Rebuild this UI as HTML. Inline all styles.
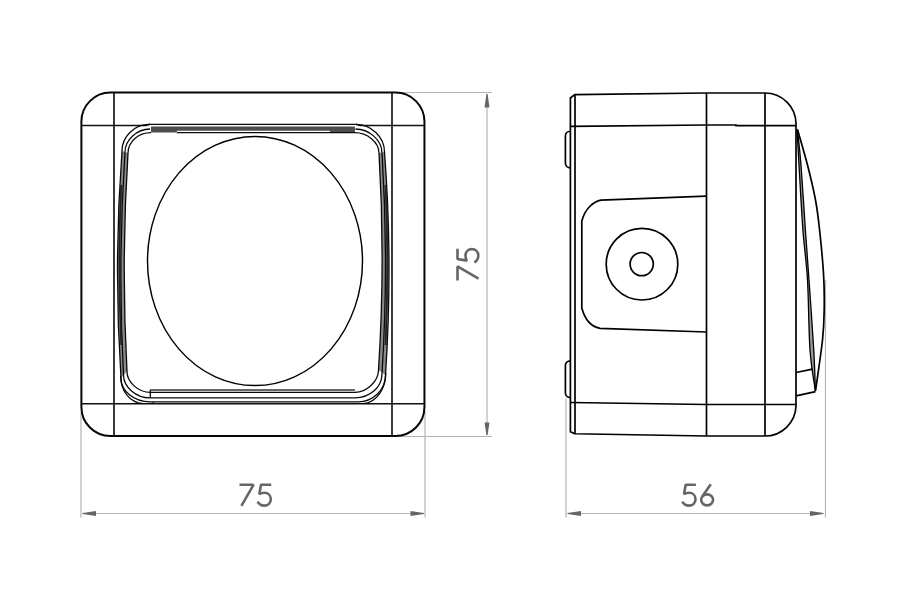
<!DOCTYPE html>
<html><head><meta charset="utf-8"><style>
html,body{margin:0;padding:0;background:#fff;width:900px;height:600px;overflow:hidden}
svg{display:block}
</style></head><body>
<svg width="900" height="600" viewBox="0 0 900 600">
<rect width="900" height="600" fill="#fff"/>
<!-- dimension lines -->
<g stroke="#b4b4b4" stroke-width="1.2" fill="none">
  <line x1="81" y1="413" x2="81" y2="517.5"/>
  <line x1="425" y1="411" x2="425" y2="517.5"/>
  <line x1="82" y1="513.5" x2="424" y2="513.5"/>
  <line x1="395" y1="92.5" x2="492" y2="92.5"/>
  <line x1="395" y1="436.5" x2="492" y2="436.5"/>
  <line x1="487" y1="94" x2="487" y2="435"/>
  <line x1="566" y1="398" x2="566" y2="517.5"/>
  <line x1="825.5" y1="280" x2="825.5" y2="517.5"/>
  <line x1="568" y1="513.5" x2="823" y2="513.5"/>
</g>
<g fill="#666" stroke="none">
  <path d="M82.7 512.9 L96 511 V516 L82.7 514.1 Z"/>
  <path d="M424 512.9 L410.5 511 V516 L424 514.1 Z"/>
  <path d="M567.5 512.9 L581 511 V516 L567.5 514.1 Z"/>
  <path d="M823.5 512.9 L810 511 V516 L823.5 514.1 Z"/>
  <path d="M486.4 94 L484.5 107.5 H489.5 L487.6 94 Z"/>
  <path d="M486.4 435 L484.5 422.4 H489.5 L487.6 435 Z"/>
</g>
<!-- dimension text -->
<g stroke="#666" stroke-width="2.6" fill="none" stroke-linecap="butt" stroke-linejoin="bevel">
  <path d="M239.5 484.8 H253.5 L241.4 505.8"/><path d="M271.20 484.8 H261.00 L259.30 494.2 C260.90 493.2 262.70 492.8 264.30 492.8 C268.10 492.8 270.80 495.6 270.80 499.2 C270.80 502.9 268.00 505.6 264.30 505.6 C261.50 505.6 258.90 504 257.60 501.6"/>
  <path d="M695.90 484.8 H685.70 L684.00 494.2 C685.60 493.2 687.40 492.8 689.00 492.8 C692.80 492.8 695.50 495.6 695.50 499.2 C695.50 502.9 692.70 505.6 689.00 505.6 C686.20 505.6 683.60 504 682.30 501.6"/>
  <path d="M710.8 484.2 L702.4 496.3"/>
  <ellipse cx="707.1" cy="499.85" rx="6" ry="5.5"/>
  <g transform="translate(467.85,264.35) rotate(-90) translate(-255.6,-495.15)"><path d="M239.5 484.8 H253.5 L241.4 505.8"/><path d="M271.20 484.8 H261.00 L259.30 494.2 C260.90 493.2 262.70 492.8 264.30 492.8 C268.10 492.8 270.80 495.6 270.80 499.2 C270.80 502.9 268.00 505.6 264.30 505.6 C261.50 505.6 258.90 504 257.60 501.6"/></g>
</g>

<!-- FRONT VIEW -->
<g fill="none" stroke="#050505" stroke-width="2.0">
  <rect x="81.4" y="92.6" width="343.05" height="343.4" rx="29" ry="29"/>
</g>
<g fill="none" stroke="#111" stroke-width="1.65">
  <line x1="114" y1="92.3" x2="114" y2="436"/>
  <line x1="392" y1="92.3" x2="392" y2="436"/>
  <path d="M81.5 125.4 H146 L150 124.3 M356 124.3 L360 125.4 H424.5" stroke-width="1.5"/>
  <line x1="81.5" y1="403.8" x2="424.5" y2="403.8" stroke-width="1.6"/>
</g>
<ellipse cx="255" cy="261" rx="107.5" ry="124.6" fill="none" stroke="#000" stroke-width="1.45"/>
<!-- BEZEL -->
<path d="M151 126.5 H355 V132.4 H330 V130.8 H177 V132.4 H151 Z" fill="#4d4d4d"/>
<path d="M122 151 Q113.5 264.5 121 378 L127 371.5 Q121 262 128 153 Z" fill="#8a8a8a"/>
<path d="M384.5 152 Q393 262 385.5 375 L378.5 370 Q385.5 262 379 153 Z" fill="#8a8a8a"/>
<g fill="none" stroke="#0a0a0a" stroke-width="1.3">
  <!-- outer -->
  <path d="M149 124.4 H356 C371 124.4 384.5 137 384.5 152 Q393 262 385.5 375 C385.5 390 373 401.9 358 401.9 H150 C134 401.9 121 391 121 378 Q113.5 264.5 122 151 C122 137 134 124.4 149 124.4 Z"/>
  <!-- middle -->
  <path d="M355.5 129 C369 129 382 140 382 153 Q389 262 382 374 C382 387 370 397.9 355 397.9 H150 C136 397.9 123.5 387 123.5 375 Q117.5 264 125 152 C125 140 137 129 150 129"/>
  <!-- inner -->
  <path d="M177 132.6 H355 C367 132.6 379 142 379 153 Q385.5 262 378.5 370 C378.5 381 367 392.4 355 392.4 H150.5 C138 392.4 127 382 127 371.5 Q121 262 128 153 C128 142 138 132.6 151 132.6"/>
  <line x1="150" y1="390" x2="355" y2="390" stroke="#333" stroke-width="1.7"/>
  <path d="M150.3 390 V397.9 M153.3 401.9 V403.8"/>
  <path d="M120.6 376 C120.6 390 129 402.5 143 403.7"/>
  <path d="M385.8 373 C385.8 388 377 402.5 363 403.7"/>
</g>
<g fill="none" stroke="#222" stroke-width="1.8">
  <path d="M121.2 185 Q117.6 262 121.2 345"/>
  <path d="M385.6 185 Q389 262 385.6 345"/>
</g>
<!-- SIDE VIEW -->
<g fill="none" stroke="#000" stroke-width="1.7">
  <path d="M570.4 98 L574.7 94.6 L706.5 93 H765 A31 31 0 0 1 796 123.5 V406 A31 31 0 0 1 765 436 H706.5 L574.6 433.75 L570.4 431.7 Z"/>
  <line x1="575" y1="94.6" x2="575" y2="433.75"/>
  <line x1="706.5" y1="93" x2="706.5" y2="436"/>
  <line x1="765" y1="93" x2="765" y2="436"/>
  <path d="M570.4 126.3 L706.5 125 L736 125 L736 125.6 H796"/>
  <path d="M570.4 402.5 L706.5 404.5 H796"/>
  <path d="M570.4 131.25 C567.5 131.25 565.4 133.5 565.4 136 V163 C565.4 165.8 567.5 167.9 570.4 167.9"/>
  <path d="M570.4 360.8 C567.5 360.8 565.4 363 565.4 365.5 V393 C565.4 395.5 567.5 397.5 570.4 397.5"/>
  <path d="M706.5 196.2 L601 200.1 C594 201.5 585 208 581.8 221.3 V308 C584.5 318 590 326.5 600 328.3 L706.5 332"/>
  <circle cx="642" cy="264.2" r="35.8"/>
  
  <path d="M797 129 C797.33 135.00 798.02 148.17 799 165 C799.98 181.83 801.48 210.83 802.9 230 C804.32 249.17 806.32 260.00 807.5 280 C808.68 300.00 808.68 331.50 810 350 C811.32 368.50 814.50 384.17 815.4 391 L815.4 391 C815.12 384.17 814.82 368.50 813.75 350 C812.68 331.50 810.39 300.00 809 280 C807.61 260.00 806.73 249.17 805.4 230 C804.07 210.83 802.32 181.67 801 165 C799.68 148.33 798.08 135.83 797.5 130 Z" fill="#9a9a9a" stroke="none"/>
  <path d="M797.5 129.5 C799.17 135.42 804.50 153.25 807.5 165 C810.50 176.75 813.48 189.17 815.5 200 C817.52 210.83 818.25 217.50 819.6 230 C820.95 242.50 822.83 261.67 823.6 275 C824.37 288.33 824.38 299.17 824.2 310 C824.02 320.83 823.95 326.50 822.5 340 C821.05 353.50 816.67 382.50 815.5 391"/>
  <path d="M797 129 C797.33 135.00 798.02 148.17 799 165 C799.98 181.83 801.48 210.83 802.9 230 C804.32 249.17 806.32 260.00 807.5 280 C808.68 300.00 808.68 331.50 810 350 C811.32 368.50 814.50 384.17 815.4 391" stroke-width="1.3"/>
  <path d="M797.5 130 C798.08 135.83 799.68 148.33 801 165 C802.32 181.67 804.07 210.83 805.4 230 C806.73 249.17 807.61 260.00 809 280 C810.39 300.00 812.68 331.50 813.75 350 C814.82 368.50 815.12 384.17 815.4 391" stroke-width="1.3"/>
  <path d="M796 372.5 L812.5 369.2"/>
  <path d="M796 395.8 L815.5 391.7"/>
  <circle cx="641.7" cy="264.1" r="11.6"/>
</g>
</svg>
</body></html>
